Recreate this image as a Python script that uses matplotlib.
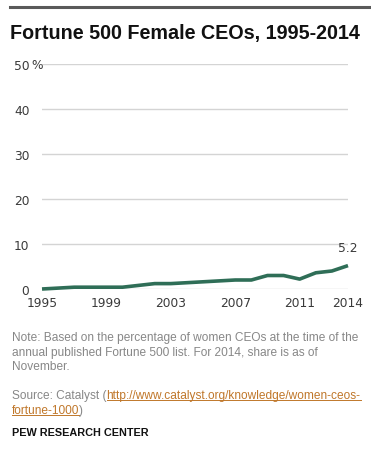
import matplotlib
matplotlib.use("Agg")
import matplotlib.pyplot as plt
from matplotlib.lines import Line2D

years = [1995, 1996, 1997, 1998, 1999, 2000, 2001, 2002, 2003, 2004,
         2005, 2006, 2007, 2008, 2009, 2010, 2011, 2012, 2013, 2014]
share = [0.0, 0.2, 0.4, 0.4, 0.4, 0.4, 0.8, 1.2, 1.2, 1.4,
         1.6, 1.8, 2.0, 2.0, 3.0, 3.0, 2.2, 3.6, 4.0, 5.2]
xticks = [1995, 1999, 2003, 2007, 2011, 2014]
yticks = [0, 10, 20, 30, 40, 50]

title = "Fortune 500 Female CEOs, 1995-2014"
note = ("Note: Based on the percentage of women CEOs at the time of the\n"
        "annual published Fortune 500 list. For 2014, share is as of\n"
        "November.")
source_pre = "Source: Catalyst ("
source_link1 = "http://www.catalyst.org/knowledge/women-ceos-"
source_link2 = "fortune-1000"
credit = "PEW RESEARCH CENTER"

W, H = 371, 452
fig = plt.figure(figsize=(W / 100, H / 100), dpi=100)


def fx(x):
    return x / W


def fy(y):
    return 1 - y / H


line_color = "#2f6e57"
grid_color = "#d4d4d4"
text_gray = "#878787"
link_color = "#c0772a"

# top rule
fig.add_artist(Line2D([fx(10), fx(371)], [fy(8), fy(8)], color="#5a5a5a", lw=2.2))

fig.text(fx(10), fy(33), title, fontsize=14.2, fontweight="bold",
         family="Liberation Sans", va="center", ha="left", color="#111111")

ax = fig.add_axes([fx(42), fy(290), fx(348) - fx(42), fy(65) - fy(290)])
ax.set_xlim(1995, 2014)
ax.set_ylim(0, 50)
for y in yticks:
    ax.axhline(y, color=grid_color, lw=1, zorder=1)
ax.plot(years, share, color=line_color, lw=2.6, zorder=3, clip_on=False,
        solid_capstyle="butt", solid_joinstyle="round")
ax.annotate(f"{share[-1]:.1f}", (years[-1], share[-1]), xytext=(0, 8),
            textcoords="offset points", ha="center", va="bottom",
            fontsize=8.8, color="#3a3a3a")

for s in ax.spines.values():
    s.set_visible(False)
ax.set_xticks(xticks)
ax.set_xticklabels([str(t) for t in xticks])
ax.set_yticks(yticks)
ax.set_yticklabels([str(t) for t in yticks])
ax.tick_params(length=0, labelsize=8.8, colors="#3a3a3a")
ax.tick_params(axis="y", pad=9)
ax.tick_params(axis="x", pad=5)
ax.text(-0.035, 50, "%", transform=ax.get_yaxis_transform(), ha="left",
        va="center", fontsize=8.8, color="#3a3a3a")

ft = dict(fontsize=8.55, family="Liberation Sans", color=text_gray, ha="left",
          va="top")
fig.text(fx(12), fy(332), note, linespacing=1.3, **ft)

t_pre = fig.text(fx(12), fy(390), source_pre, **ft)
fig.canvas.draw()
r = fig.canvas.get_renderer()
bb = t_pre.get_window_extent(r)
link1 = fig.text(bb.x1 / W, fy(390), source_link1, **{**ft, "color": link_color})
link2 = fig.text(fx(12), fy(405), source_link2, **{**ft, "color": link_color})
fig.canvas.draw()
bb2 = link2.get_window_extent(r)
fig.text(bb2.x1 / W, fy(405), ")", **ft)
for t in (link1, link2):
    b = t.get_window_extent(r)
    fig.add_artist(Line2D([b.x0 / W, b.x1 / W], [(b.y0 + 1.5) / H] * 2,
                          color=link_color, lw=0.7))

fig.text(fx(12), fy(433), credit, fontsize=7.8, fontweight="bold",
         family="Liberation Sans", color="#111111", ha="left", va="center")

fig.savefig("out.png", dpi=100)
